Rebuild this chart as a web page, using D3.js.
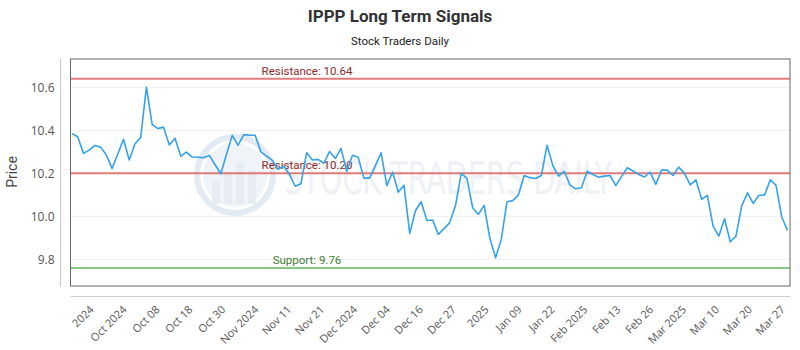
<!DOCTYPE html>
<html>
<head>
<meta charset="utf-8">
<script src="https://cdn.jsdelivr.net/npm/d3@7"></script>
<style>
  html, body { margin: 0; padding: 0; background: #fff; }
  svg { display: block; }
</style>
</head>
<body>
<svg id="chart" width="800" height="350"></svg>
<script>
// ---- data ----
const prices = [
  10.385, 10.37, 10.293, 10.308, 10.33, 10.322, 10.285, 10.223, 10.29, 10.358,
  10.262, 10.338, 10.366, 10.601, 10.428, 10.408, 10.415, 10.332, 10.363, 10.28,
  10.299, 10.276, 10.275, 10.273, 10.284, 10.24, 10.198, 10.29, 10.377, 10.33,
  10.38, 10.378, 10.377, 10.30, 10.28, 10.26, 10.219, 10.233, 10.195, 10.14,
  10.152, 10.296, 10.262, 10.265, 10.247, 10.302, 10.269, 10.316, 10.21, 10.284,
  10.275, 10.178, 10.178, 10.236, 10.296, 10.143, 10.206, 10.113, 10.145, 9.921,
  10.026, 10.068, 9.981, 9.983, 9.916, 9.943, 9.971, 10.05, 10.2, 10.177,
  10.04, 10.009, 10.051, 9.899, 9.807, 9.894, 10.068, 10.073, 10.1, 10.19,
  10.18, 10.176, 10.19, 10.331, 10.236, 10.187, 10.21, 10.145, 10.128, 10.133,
  10.21, 10.195, 10.182, 10.187, 10.19, 10.143, 10.185, 10.226, 10.211, 10.195,
  10.183, 10.206, 10.149, 10.215, 10.215, 10.19, 10.229, 10.2, 10.146, 10.17,
  10.079, 10.098, 9.955, 9.908, 9.989, 9.882, 9.908, 10.048, 10.11, 10.06,
  10.098, 10.099, 10.17, 10.144, 9.997, 9.935
];
const tickLabels = ["2024", "Oct 2024", "Oct 08", "Oct 18", "Oct 30", "Nov 2024", "Nov 11", "Nov 21",
  "Dec 2024", "Dec 04", "Dec 16", "Dec 27", "2025", "Jan 09", "Jan 22", "Feb 2025", "Feb 13",
  "Feb 26", "Mar 2025", "Mar 10", "Mar 20", "Mar 27"];
const tickAt = [4.25, 10, 15.75, 21.5, 27.25, 33, 38.75, 44.5, 50.25, 56, 61.75, 67.5, 73.25,
  79, 84.75, 90.5, 96.25, 102, 107.75, 113.5, 119.25, 125];
const yTicks = [9.8, 10.0, 10.2, 10.4, 10.6];
const levelNames = ["Resistance", "Resistance", "Support"];
const levelValues = [10.64, 10.20, 9.76];
const levelKinds = ["res", "res", "sup"];
const titleText = "IPPP Long Term Signals";
const subtitleText = "Stock Traders Daily";

// ---- layout ----
const svg = d3.select("#chart");
const plot = { left: 70.5, right: 790, top: 59, bottom: 286 };
const x = d3.scaleLinear().domain([0, prices.length - 1]).range([72, 787.5]);
const y = d3.scaleLinear().domain([9.676, 10.732]).range([plot.bottom, plot.top]);

const levelStroke = { res: "rgba(222, 100, 100, 0.85)", sup: "rgba(110, 190, 110, 0.85)" };
const levelText = { res: "#8e2a2a", sup: "#3d7d35" };

// title
svg.append("text").attr("x", 400).attr("y", 22).attr("text-anchor", "middle")
  .style("font-family", "Roboto, sans-serif").style("font-weight", "bold")
  .style("font-size", "17px").style("fill", "#333").text(titleText);
svg.append("text").attr("x", 400).attr("y", 45).attr("text-anchor", "middle")
  .style("font-family", "Roboto, sans-serif").style("font-size", "11.5px")
  .style("fill", "#222").text(subtitleText);

// gridlines
svg.append("g").selectAll("line").data(yTicks).join("line")
  .attr("x1", plot.left).attr("x2", plot.right)
  .attr("y1", d => y(d)).attr("y2", d => y(d))
  .attr("stroke", "#efefef").attr("stroke-width", 1);

// watermark
const wm = svg.append("g").attr("opacity", 0.5);
wm.append("circle").attr("cx", 235).attr("cy", 175).attr("r", 38)
  .attr("fill", "none").attr("stroke", "#c9d7e4").attr("stroke-width", 6);
wm.append("circle").attr("cx", 235).attr("cy", 175).attr("r", 32).attr("fill", "#e3ebf2");
const wmBars = [[212, 182, 8, 22], [224, 172, 8, 32], [236, 162, 8, 42], [248, 170, 8, 34]];
wm.selectAll("rect.wb").data(wmBars).join("rect").attr("class", "wb")
  .attr("x", d => d[0]).attr("y", d => d[1]).attr("width", d => d[2]).attr("height", d => d[3])
  .attr("fill", "#cddbe7");
wm.append("text").attr("x", 284).attr("y", 194)
  .attr("textLength", 328).attr("lengthAdjust", "spacingAndGlyphs")
  .style("font-family", "'DejaVu Sans Condensed', 'DejaVu Sans', sans-serif")
  .style("font-size", "44px").style("fill", "#dfe5ec").text("STOCK TRADERS DAILY");

// level lines
svg.append("g").selectAll("line").data(levelValues).join("line")
  .attr("x1", plot.left).attr("x2", plot.right)
  .attr("y1", d => y(d)).attr("y2", d => y(d))
  .attr("stroke", (d, i) => levelStroke[levelKinds[i]]).attr("stroke-width", 2);
svg.append("g").selectAll("text").data(levelValues).join("text")
  .attr("x", 307).attr("y", d => y(d) - 4).attr("text-anchor", "middle")
  .style("font-family", "Roboto, sans-serif").style("font-size", "11.5px")
  .style("fill", (d, i) => levelText[levelKinds[i]])
  .text((d, i) => levelNames[i] + ": " + d.toFixed(2));

// price line
const line = d3.line().x((d, i) => x(i)).y(d => y(d));
svg.append("path").datum(prices).attr("d", line)
  .attr("fill", "none").attr("stroke", "#36a2eb").attr("stroke-width", 1.6)
  .attr("stroke-linejoin", "round");

// plot frame
svg.append("rect").attr("x", plot.left).attr("y", plot.top)
  .attr("width", plot.right - plot.left).attr("height", plot.bottom - plot.top)
  .attr("fill", "none").attr("stroke", "#666").attr("stroke-width", 1);

// y axis
const yAxis = svg.append("g").attr("transform", "translate(60.5,0)")
  .call(d3.axisLeft(y).tickValues(yTicks).tickFormat(d3.format(".1f")).tickSize(0).tickPadding(6));
yAxis.select(".domain").attr("stroke", "#ccc").attr("d", `M0,${plot.top}V${plot.bottom + 1}`);
yAxis.selectAll("text").style("font-family", "'Open Sans', sans-serif")
  .style("font-size", "12px").style("fill", "#555");

// x axis
const xAxis = svg.append("g").attr("transform", "translate(0,296.5)")
  .call(d3.axisBottom(x).tickValues(tickAt).tickFormat((d, i) => tickLabels[i]).tickSize(0).tickPadding(0));
xAxis.select(".domain").attr("stroke", "#ccc").attr("d", `M${plot.left},0H${plot.right}`);
xAxis.selectAll("text")
  .style("font-family", "'Open Sans', sans-serif").style("font-size", "11px").style("fill", "#555")
  .attr("text-anchor", "end").attr("dy", "0.35em")
  .attr("transform", "translate(-5,11) rotate(-45)");
xAxis.selectAll("text").attr("y", 0);

// y title
svg.append("text").attr("transform", "translate(17,172) rotate(-90)").attr("text-anchor", "middle")
  .style("font-family", "Roboto, sans-serif").style("font-size", "14px").style("fill", "#444")
  .text("Price");
</script>
</body>
</html>
